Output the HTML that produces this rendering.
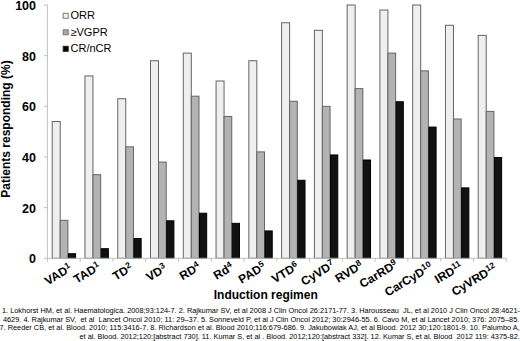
<!DOCTYPE html>
<html><head><meta charset="utf-8"><style>
html,body{margin:0;padding:0;background:#fff;width:520px;height:341px;overflow:hidden}
svg{position:absolute;left:0;top:0}
text{font-family:"Liberation Sans",sans-serif}
.yl{font-weight:bold;font-size:13.5px;fill:#000}
.xl{font-weight:bold;font-size:12px;fill:#000}
.sup{font-size:8.5px}
.lg{font-size:11px;fill:#000}
.ti{font-weight:bold;font-size:12px;fill:#000}
.fn{font-size:6.6px;fill:#000;white-space:pre}
</style></head><body>
<svg width="520" height="341" viewBox="0 0 520 341">
<rect x="52.20" y="121.52" width="8.00" height="136.78" fill="#efefef" stroke="#646464" stroke-width="1"/><rect x="60.20" y="220.31" width="7.70" height="38.00" fill="#b3b3b3" stroke="#646464" stroke-width="1"/><rect x="68.40" y="253.73" width="7.20" height="4.57" fill="#111111" stroke="#000" stroke-width="1"/><rect x="84.97" y="75.92" width="8.00" height="182.38" fill="#efefef" stroke="#646464" stroke-width="1"/><rect x="92.97" y="174.71" width="7.70" height="83.59" fill="#b3b3b3" stroke="#646464" stroke-width="1"/><rect x="101.17" y="248.67" width="7.20" height="9.63" fill="#111111" stroke="#000" stroke-width="1"/><rect x="117.74" y="98.72" width="8.00" height="159.58" fill="#efefef" stroke="#646464" stroke-width="1"/><rect x="125.74" y="146.85" width="7.70" height="111.45" fill="#b3b3b3" stroke="#646464" stroke-width="1"/><rect x="133.94" y="238.54" width="7.20" height="19.76" fill="#111111" stroke="#000" stroke-width="1"/><rect x="150.51" y="60.73" width="8.00" height="197.57" fill="#efefef" stroke="#646464" stroke-width="1"/><rect x="158.51" y="162.05" width="7.70" height="96.25" fill="#b3b3b3" stroke="#646464" stroke-width="1"/><rect x="166.71" y="220.81" width="7.20" height="37.50" fill="#111111" stroke="#000" stroke-width="1"/><rect x="183.29" y="53.13" width="8.00" height="205.17" fill="#efefef" stroke="#646464" stroke-width="1"/><rect x="191.29" y="96.19" width="7.70" height="162.11" fill="#b3b3b3" stroke="#646464" stroke-width="1"/><rect x="199.49" y="213.21" width="7.20" height="45.09" fill="#111111" stroke="#000" stroke-width="1"/><rect x="216.06" y="80.99" width="8.00" height="177.31" fill="#efefef" stroke="#646464" stroke-width="1"/><rect x="224.06" y="116.45" width="7.70" height="141.85" fill="#b3b3b3" stroke="#646464" stroke-width="1"/><rect x="232.26" y="223.34" width="7.20" height="34.96" fill="#111111" stroke="#000" stroke-width="1"/><rect x="248.83" y="60.73" width="8.00" height="197.57" fill="#efefef" stroke="#646464" stroke-width="1"/><rect x="256.83" y="151.91" width="7.70" height="106.39" fill="#b3b3b3" stroke="#646464" stroke-width="1"/><rect x="265.03" y="230.94" width="7.20" height="27.36" fill="#111111" stroke="#000" stroke-width="1"/><rect x="281.60" y="22.73" width="8.00" height="235.57" fill="#efefef" stroke="#646464" stroke-width="1"/><rect x="289.60" y="101.25" width="7.70" height="157.05" fill="#b3b3b3" stroke="#646464" stroke-width="1"/><rect x="297.80" y="180.28" width="7.20" height="78.02" fill="#111111" stroke="#000" stroke-width="1"/><rect x="314.37" y="30.33" width="8.00" height="227.97" fill="#efefef" stroke="#646464" stroke-width="1"/><rect x="322.37" y="106.32" width="7.70" height="151.98" fill="#b3b3b3" stroke="#646464" stroke-width="1"/><rect x="330.57" y="154.95" width="7.20" height="103.35" fill="#111111" stroke="#000" stroke-width="1"/><rect x="347.14" y="5.00" width="8.00" height="253.30" fill="#efefef" stroke="#646464" stroke-width="1"/><rect x="355.14" y="88.59" width="7.70" height="169.71" fill="#b3b3b3" stroke="#646464" stroke-width="1"/><rect x="363.34" y="160.01" width="7.20" height="98.29" fill="#111111" stroke="#000" stroke-width="1"/><rect x="379.91" y="10.07" width="8.00" height="248.23" fill="#efefef" stroke="#646464" stroke-width="1"/><rect x="387.91" y="53.13" width="7.70" height="205.17" fill="#b3b3b3" stroke="#646464" stroke-width="1"/><rect x="396.11" y="101.75" width="7.20" height="156.55" fill="#111111" stroke="#000" stroke-width="1"/><rect x="412.69" y="5.00" width="8.00" height="253.30" fill="#efefef" stroke="#646464" stroke-width="1"/><rect x="420.69" y="70.86" width="7.70" height="187.44" fill="#b3b3b3" stroke="#646464" stroke-width="1"/><rect x="428.89" y="127.08" width="7.20" height="131.22" fill="#111111" stroke="#000" stroke-width="1"/><rect x="445.46" y="25.26" width="8.00" height="233.04" fill="#efefef" stroke="#646464" stroke-width="1"/><rect x="453.46" y="118.99" width="7.70" height="139.31" fill="#b3b3b3" stroke="#646464" stroke-width="1"/><rect x="461.66" y="187.88" width="7.20" height="70.42" fill="#111111" stroke="#000" stroke-width="1"/><rect x="478.23" y="35.40" width="8.00" height="222.90" fill="#efefef" stroke="#646464" stroke-width="1"/><rect x="486.23" y="111.39" width="7.70" height="146.91" fill="#b3b3b3" stroke="#646464" stroke-width="1"/><rect x="494.43" y="157.48" width="7.20" height="100.82" fill="#111111" stroke="#000" stroke-width="1"/><line x1="47.40" y1="5.00" x2="47.40" y2="258.30" stroke="#c0c0c0" stroke-width="1"/><line x1="47.40" y1="258.30" x2="506.20" y2="258.30" stroke="#c0c0c0" stroke-width="1"/><line x1="43.90" y1="258.30" x2="47.40" y2="258.30" stroke="#c0c0c0" stroke-width="1"/><line x1="43.90" y1="207.64" x2="47.40" y2="207.64" stroke="#c0c0c0" stroke-width="1"/><line x1="43.90" y1="156.98" x2="47.40" y2="156.98" stroke="#c0c0c0" stroke-width="1"/><line x1="43.90" y1="106.32" x2="47.40" y2="106.32" stroke="#c0c0c0" stroke-width="1"/><line x1="43.90" y1="55.66" x2="47.40" y2="55.66" stroke="#c0c0c0" stroke-width="1"/><line x1="43.90" y1="5.00" x2="47.40" y2="5.00" stroke="#c0c0c0" stroke-width="1"/><line x1="47.40" y1="258.30" x2="47.40" y2="261.80" stroke="#c0c0c0" stroke-width="1"/><line x1="80.17" y1="258.30" x2="80.17" y2="261.80" stroke="#c0c0c0" stroke-width="1"/><line x1="112.94" y1="258.30" x2="112.94" y2="261.80" stroke="#c0c0c0" stroke-width="1"/><line x1="145.71" y1="258.30" x2="145.71" y2="261.80" stroke="#c0c0c0" stroke-width="1"/><line x1="178.49" y1="258.30" x2="178.49" y2="261.80" stroke="#c0c0c0" stroke-width="1"/><line x1="211.26" y1="258.30" x2="211.26" y2="261.80" stroke="#c0c0c0" stroke-width="1"/><line x1="244.03" y1="258.30" x2="244.03" y2="261.80" stroke="#c0c0c0" stroke-width="1"/><line x1="276.80" y1="258.30" x2="276.80" y2="261.80" stroke="#c0c0c0" stroke-width="1"/><line x1="309.57" y1="258.30" x2="309.57" y2="261.80" stroke="#c0c0c0" stroke-width="1"/><line x1="342.34" y1="258.30" x2="342.34" y2="261.80" stroke="#c0c0c0" stroke-width="1"/><line x1="375.11" y1="258.30" x2="375.11" y2="261.80" stroke="#c0c0c0" stroke-width="1"/><line x1="407.89" y1="258.30" x2="407.89" y2="261.80" stroke="#c0c0c0" stroke-width="1"/><line x1="440.66" y1="258.30" x2="440.66" y2="261.80" stroke="#c0c0c0" stroke-width="1"/><line x1="473.43" y1="258.30" x2="473.43" y2="261.80" stroke="#c0c0c0" stroke-width="1"/><line x1="506.20" y1="258.30" x2="506.20" y2="261.80" stroke="#c0c0c0" stroke-width="1"/>
<text x="29.05" y="263.20" class="yl" textLength="6.95" lengthAdjust="spacingAndGlyphs">0</text><text x="22.10" y="212.54" class="yl" textLength="13.90" lengthAdjust="spacingAndGlyphs">20</text><text x="22.10" y="161.88" class="yl" textLength="13.90" lengthAdjust="spacingAndGlyphs">40</text><text x="22.10" y="111.22" class="yl" textLength="13.90" lengthAdjust="spacingAndGlyphs">60</text><text x="22.10" y="60.56" class="yl" textLength="13.90" lengthAdjust="spacingAndGlyphs">80</text><text x="15.15" y="9.90" class="yl" textLength="20.85" lengthAdjust="spacingAndGlyphs">100</text>
<text transform="translate(72.65,270.35) rotate(-31)" text-anchor="end" class="xl">VAD<tspan class="sup" dy="-4">1</tspan></text><text transform="translate(101.25,269.05) rotate(-31)" text-anchor="end" class="xl">TAD<tspan class="sup" dy="-4">1</tspan></text><text transform="translate(133.50,270.10) rotate(-31)" text-anchor="end" class="xl">TD<tspan class="sup" dy="-4">2</tspan></text><text transform="translate(167.50,270.50) rotate(-31)" text-anchor="end" class="xl">VD<tspan class="sup" dy="-4">3</tspan></text><text transform="translate(201.45,269.10) rotate(-31)" text-anchor="end" class="xl">RD<tspan class="sup" dy="-4">4</tspan></text><text transform="translate(234.25,269.30) rotate(-31)" text-anchor="end" class="xl">Rd<tspan class="sup" dy="-4">4</tspan></text><text transform="translate(266.60,268.85) rotate(-31)" text-anchor="end" class="xl">PAD<tspan class="sup" dy="-4">5</tspan></text><text transform="translate(299.50,268.70) rotate(-31)" text-anchor="end" class="xl">VTD<tspan class="sup" dy="-4">6</tspan></text><text transform="translate(335.55,267.10) rotate(-31)" text-anchor="end" class="xl">CyVD<tspan class="sup" dy="-4">7</tspan></text><text transform="translate(363.80,267.70) rotate(-31)" text-anchor="end" class="xl">RVD<tspan class="sup" dy="-4">8</tspan></text><text transform="translate(398.65,266.70) rotate(-31)" text-anchor="end" class="xl">CarRD<tspan class="sup" dy="-4">9</tspan></text><text transform="translate(433.55,269.10) rotate(-31)" text-anchor="end" class="xl">CarCyD<tspan class="sup" dy="-4">10</tspan></text><text transform="translate(463.30,268.55) rotate(-31)" text-anchor="end" class="xl">IRD<tspan class="sup" dy="-4">11</tspan></text><text transform="translate(497.65,270.30) rotate(-31)" text-anchor="end" class="xl">CyVRD<tspan class="sup" dy="-4">12</tspan></text>
<text transform="translate(9.5,129) rotate(-90)" text-anchor="middle" class="ti">Patients responding (%)</text>
<text x="265.8" y="299" text-anchor="middle" class="ti">Induction regimen</text>
<rect x="63.2" y="13.3" width="5" height="5" fill="#f4f4f4" stroke="#7a7a7a"/>
<text x="70.5" y="19" class="lg">ORR</text>
<rect x="63.2" y="29.8" width="5" height="5" fill="#a8a8a8" stroke="#7a7a7a"/>
<text x="70.5" y="35.7" class="lg">&#8805;VGPR</text>
<rect x="63.2" y="46.3" width="5" height="5" fill="#000" stroke="#222"/>
<text x="70.5" y="52" class="lg">CR/nCR</text>
<text x="2" y="313" class="fn" textLength="518" lengthAdjust="spacingAndGlyphs">1. Lokhorst HM, et al. Haematologica. 2008;93:124-7. 2. Rajkumar SV, et al 2008 J Clin Oncol 26:2171-77. 3. Harousseau  JL, et al 2010 J Clin Oncol 28:4621-</text>
<text x="2.9" y="321.6" class="fn" textLength="516.4" lengthAdjust="spacingAndGlyphs">4629. 4. Rajkumar SV,  et al  Lancet Oncol 2010; 11: 29&#8211;37. 5. Sonneveld P, et al J Clin Oncol 2012; 30:2946-55. 6. Cavo M, et al Lancet 2010; 376: 2075&#8211;85.</text>
<text x="-0.5" y="330.3" class="fn" textLength="520.2" lengthAdjust="spacingAndGlyphs">7. Reeder CB, et al. Blood. 2010; 115:3416-7. 8. Richardson et al. Blood 2010;116:679-686. 9. Jakubowiak AJ, et al Blood. 2012 30;120:1801-9. 10. Palumbo A,</text>
<text x="79.5" y="339.3" class="fn" textLength="440.3" lengthAdjust="spacingAndGlyphs">et al. Blood. 2012;120:[abstract 730]. 11. Kumar S, et al . Blood. 2012;120:[abstract 332]. 12. Kumar S, et al. Blood  2012 119: 4375-82.</text>
</svg>
</body></html>
